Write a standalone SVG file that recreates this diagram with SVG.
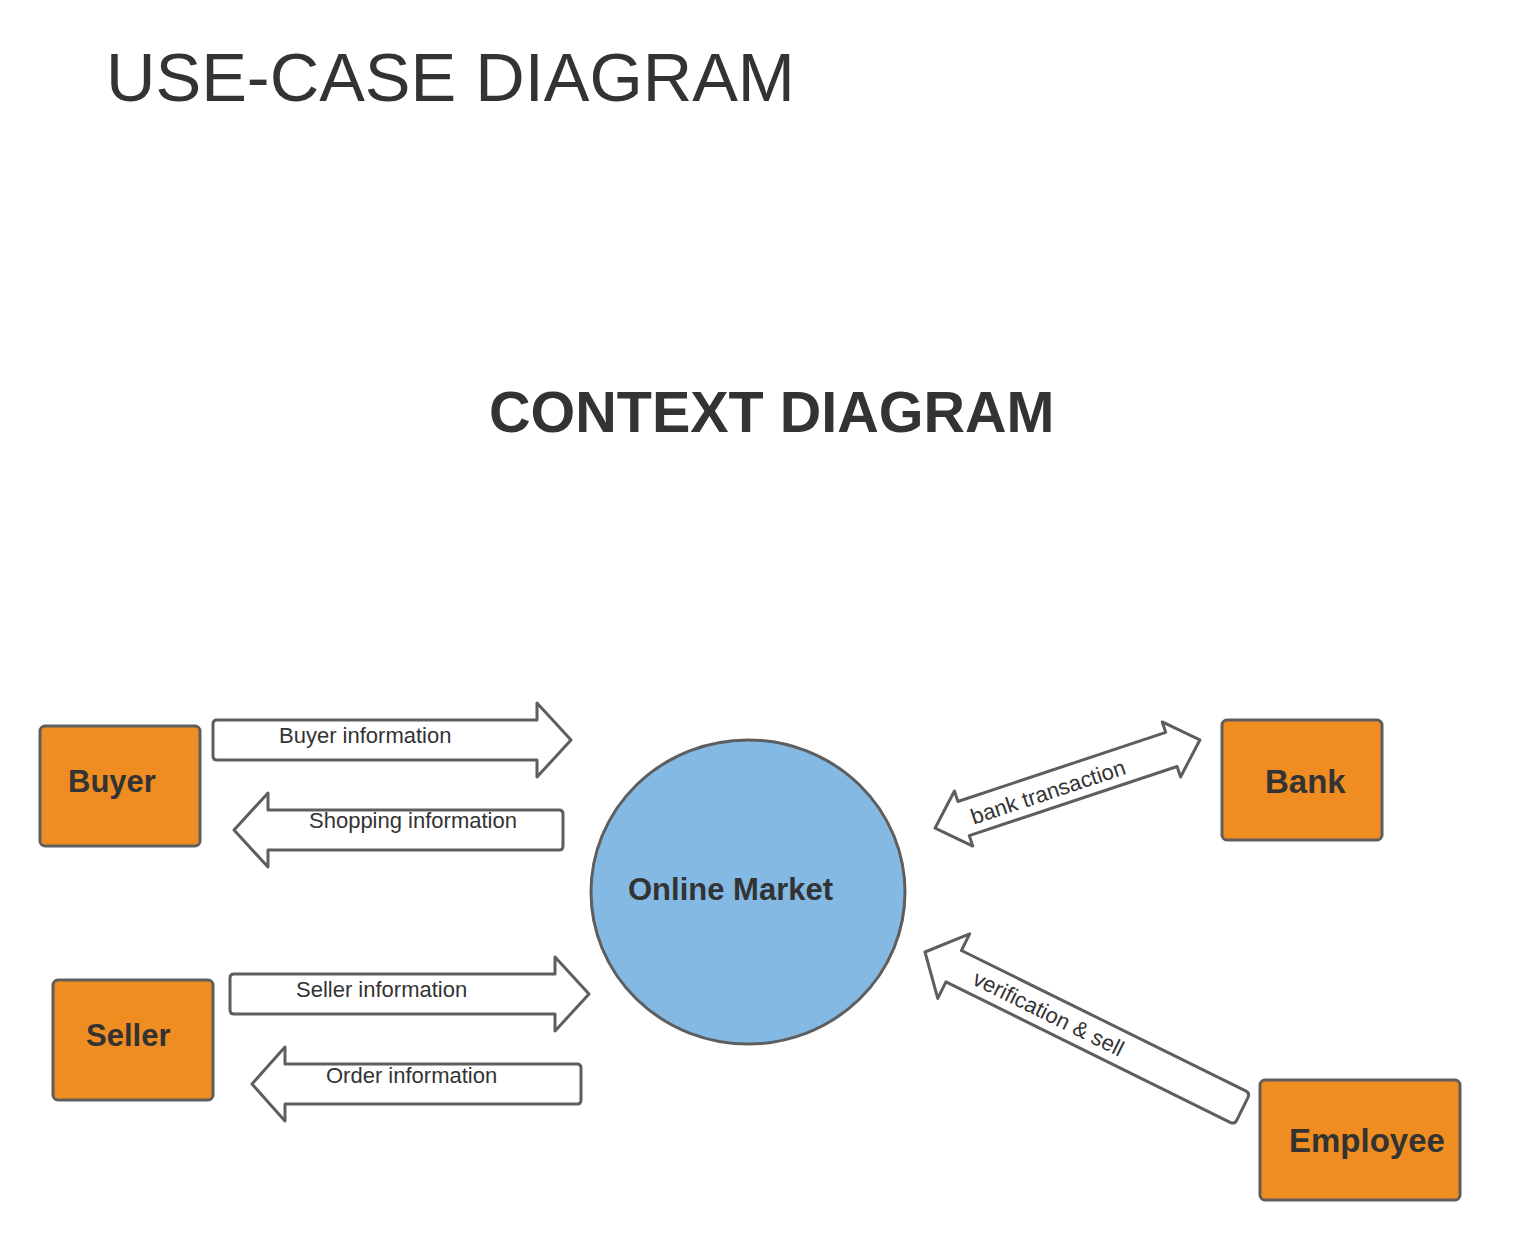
<svg xmlns="http://www.w3.org/2000/svg" width="1523" height="1240" viewBox="0 0 1523 1240">
<style>
.bg{fill:#ffffff}
.ent{fill:#ef8d22;stroke:#5e5e5e;stroke-width:3}
.proc{fill:#83b9e3;stroke:#5e5e5e;stroke-width:3}
.arr{fill:#ffffff;stroke:#5e5e5e;stroke-width:3;stroke-linejoin:round}
text{font-family:"Liberation Sans",Arial,sans-serif;fill:#333333}
.lbl{font-size:22px}
.nl{font-weight:bold}
</style>
<rect class="bg" x="0" y="0" width="1523" height="1240"/>
<g id="titles">
<text x="106" y="101" style="font-size:68.5px">USE-CASE DIAGRAM</text>
<text x="489" y="432" style="font-size:57.5px;font-weight:bold">CONTEXT DIAGRAM</text>
</g>
<g id="connectors">
<g id="buyer-info">
<path class="arr" d="M217,720 L537,720 L537,703 L571,740 L537,777 L537,760 L217,760 Q213,760 213,756 L213,724 Q213,720 217,720 Z"/>
<text class="lbl" x="279" y="743">Buyer information</text>
</g>
<g id="shopping-info">
<path class="arr" d="M559,810 L268,810 L268,793 L234,830 L268,867 L268,850 L559,850 Q563,850 563,846 L563,814 Q563,810 559,810 Z"/>
<text class="lbl" x="309" y="828">Shopping information</text>
</g>
<g id="seller-info">
<path class="arr" d="M234,974 L555,974 L555,957 L589,994 L555,1031 L555,1014 L234,1014 Q230,1014 230,1010 L230,978 Q230,974 234,974 Z"/>
<text class="lbl" x="296" y="997">Seller information</text>
</g>
<g id="order-info">
<path class="arr" d="M577,1064 L285,1064 L285,1047 L252,1084 L285,1121 L285,1104 L577,1104 Q581,1104 581,1100 L581,1068 Q581,1064 577,1064 Z"/>
<text class="lbl" x="326" y="1083">Order information</text>
</g>
<g id="bank-transaction" transform="translate(1067.5,784) rotate(-18.4)">
<path class="arr" d="M-139.5,0 L-109.5,-29 L-109.5,-18 L109.5,-18 L109.5,-29 L139.5,0 L109.5,29 L109.5,18 L-109.5,18 L-109.5,29 Z"/>
<text class="lbl" x="-21" y="9" text-anchor="middle">bank transaction</text>
</g>
<g id="verification-sell" transform="translate(925,952) rotate(26.3)">
<path class="arr" d="M0,0 L32,-36 L32,-17.5 L349,-17.5 Q354,-17.5 354,-12.5 L354,12.5 Q354,17.5 349,17.5 L32,17.5 L32,36 Z"/>
<text class="lbl" x="138" y="8" text-anchor="middle">verification &amp; sell</text>
</g>
</g>
<g id="buyer">
<rect class="ent" x="40" y="726" width="160" height="120" rx="5"/>
<text class="nl" x="68" y="792" style="font-size:31px">Buyer</text>
</g>
<g id="seller">
<rect class="ent" x="53" y="980" width="160" height="120" rx="5"/>
<text class="nl" x="86" y="1046" style="font-size:31px">Seller</text>
</g>
<g id="bank">
<rect class="ent" x="1222" y="720" width="160" height="120" rx="5"/>
<text class="nl" x="1265" y="793" style="font-size:33px">Bank</text>
</g>
<g id="employee">
<rect class="ent" x="1260" y="1080" width="200" height="120" rx="5"/>
<text class="nl" x="1289" y="1152" style="font-size:33px">Employee</text>
</g>
<g id="online-market">
<ellipse class="proc" cx="748" cy="892" rx="157" ry="152"/>
<text class="nl" x="628" y="900" style="font-size:31px">Online Market</text>
</g>
</svg>
